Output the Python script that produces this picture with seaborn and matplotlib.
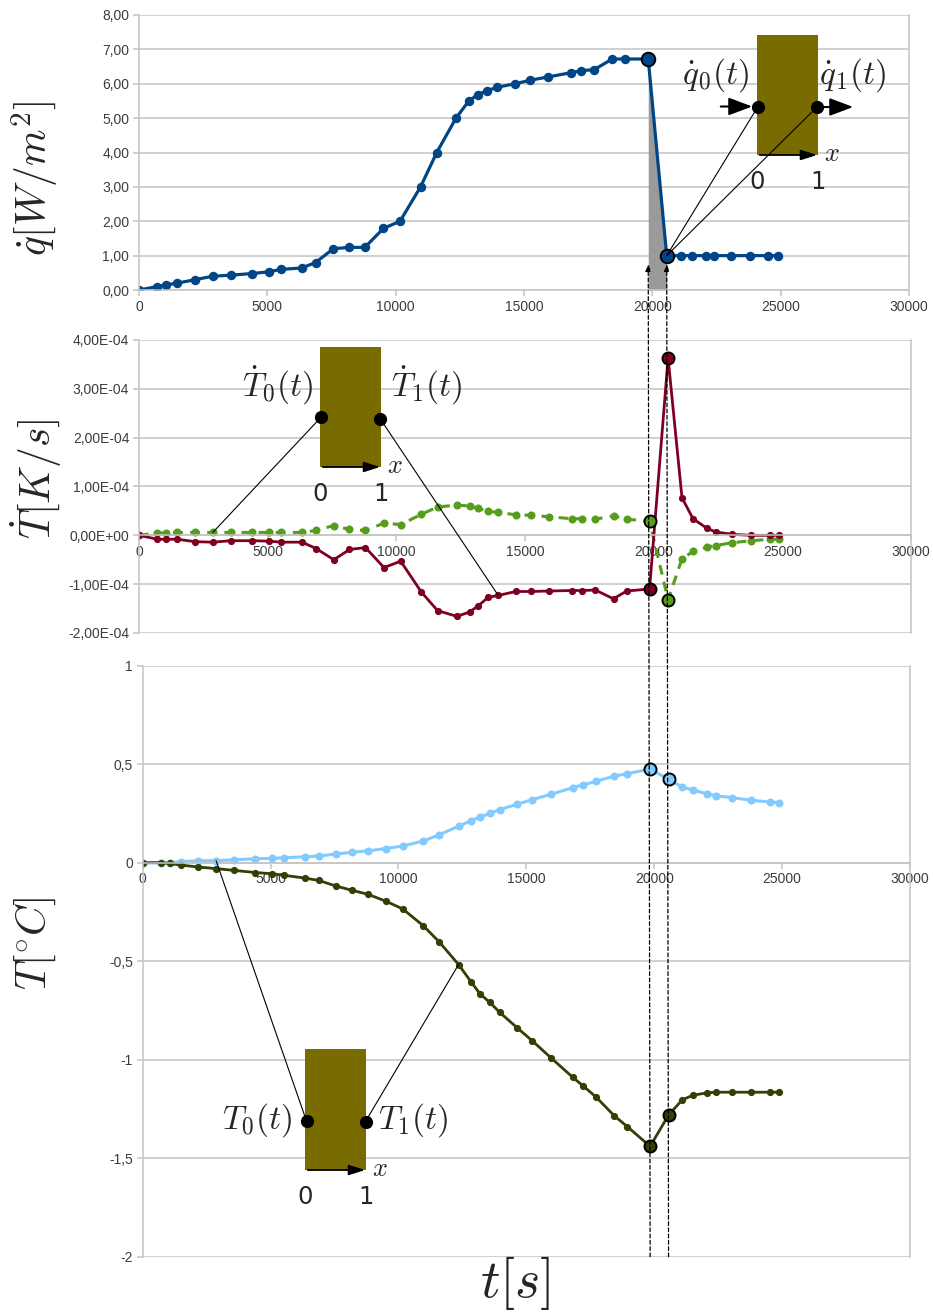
import numpy as np
import pandas as pd
import matplotlib
matplotlib.use("Agg")
import matplotlib.pyplot as plt
import seaborn as sns
from matplotlib.patches import Rectangle, ConnectionPatch, FancyArrowPatch
from matplotlib.lines import Line2D
from matplotlib.ticker import FuncFormatter

# ---------------- data ----------------
t = [0, 710, 1060, 1490, 2180, 2870, 3570, 4410, 5060, 5530,
     6340, 6880, 7570, 8180, 8800, 9520, 10170, 10970, 11600, 12350,
     12850, 13190, 13570, 13960, 14650, 15230, 15950, 16820, 17210, 17730,
     18440, 18950, 19840, 20560, 21100, 21530, 22080, 22410, 23050, 23800,
     24520, 24880]

q = [0, 0.1, 0.15, 0.2, 0.3, 0.4, 0.43, 0.48, 0.53, 0.6,
     0.64, 0.8, 1.2, 1.24, 1.24, 1.79, 2.0, 3.0, 4.0, 5.0,
     5.5, 5.68, 5.8, 5.9, 6.0, 6.1, 6.2, 6.32, 6.38, 6.41,
     6.72, 6.72, 6.72, 1.0, 1.0, 1.0, 1.0, 1.0, 1.0, 1.0,
     1.0, 1.0]

# temperature rates, in units of 1E-04 K/s
tdot0_e4 = [0, 0.05, 0.05, 0.06, 0.06, 0.06, 0.06, 0.06, 0.06, 0.06,
            0.06, 0.1, 0.2, 0.12, 0.1, 0.25, 0.22, 0.43, 0.58, 0.62,
            0.6, 0.55, 0.49, 0.47, 0.42, 0.41, 0.38, 0.34, 0.34, 0.33,
            0.4, 0.33, 0.29, -1.32, -0.48, -0.33, -0.24, -0.21, -0.15, -0.11,
            -0.08, -0.08]
tdot1_e4 = [0, -0.08, -0.08, -0.08, -0.13, -0.14, -0.11, -0.11, -0.12, -0.14,
            -0.14, -0.27, -0.5, -0.29, -0.25, -0.66, -0.53, -1.16, -1.54, -1.66,
            -1.57, -1.44, -1.27, -1.23, -1.15, -1.15, -1.14, -1.13, -1.13, -1.12,
            -1.3, -1.14, -1.1, 3.63, 0.77, 0.34, 0.14, 0.07, 0.02, 0.0,
            0.0, 0.0]

T0 = [0, 0, 0, 0.005, 0.01, 0.01, 0.015, 0.02, 0.022, 0.025,
      0.03, 0.034, 0.044, 0.053, 0.06, 0.072, 0.085, 0.11, 0.142, 0.185,
      0.214, 0.232, 0.25, 0.27, 0.297, 0.32, 0.347, 0.381, 0.395, 0.413,
      0.44, 0.452, 0.476, 0.423, 0.384, 0.368, 0.349, 0.34, 0.33, 0.317,
      0.308, 0.305]
T1 = [0, 0, -0.004, -0.012, -0.022, -0.03, -0.039, -0.05, -0.056, -0.064,
      -0.078, -0.09, -0.119, -0.14, -0.16, -0.196, -0.235, -0.32, -0.403, -0.517,
      -0.607, -0.666, -0.709, -0.76, -0.839, -0.904, -0.989, -1.09, -1.132, -1.19,
      -1.285, -1.34, -1.44, -1.281, -1.203, -1.18, -1.168, -1.165, -1.165, -1.165,
      -1.165, -1.165]

x_ticks = [0, 5000, 10000, 15000, 20000, 25000, 30000]
q_ticks = [0, 1, 2, 3, 4, 5, 6, 7, 8]
tdot_ticks = [-2e-4, -1e-4, 0, 1e-4, 2e-4, 3e-4, 4e-4]
T_ticks = [-2, -1.5, -1, -0.5, 0, 0.5, 1]

hl = [32, 33]  # highlighted instants
link_q = 33
link_tdot0 = 5
link_tdot1 = 23
link_T0 = 5
link_T1 = 19

df = pd.DataFrame({"t": t, "q": q,
                   "tdot0": np.array(tdot0_e4) * 1e-4,
                   "tdot1": np.array(tdot1_e4) * 1e-4,
                   "T0": T0, "T1": T1})

# ---------------- style ----------------
sns.set_theme(style="white")
plt.rcParams["font.family"] = ["Liberation Sans", "DejaVu Sans"]
plt.rcParams["mathtext.fontset"] = "cm"

W, H = 933, 1312
fig = plt.figure(figsize=(W / 100, H / 100), dpi=100)
fig.patch.set_facecolor("white")


def P(x, y):
    return (x / W, 1 - y / H)


def add_ax(l, tp, r, b):
    return fig.add_axes([l / W, 1 - b / H, (r - l) / W, (b - tp) / H])


ax1 = add_ax(139, 15, 909, 290)
ax2 = add_ax(139, 340, 911, 633)
ax3 = add_ax(142.7, 665.7, 910, 1256.7)

GRID = "#c4c4c4"
LAB = "#3c3c3c"

BLUE = "#004586"
RED = "#7e0021"
GREEN = "#579d1c"
LBLUE = "#83caff"
DARK = "#314004"
OLIVE = "#786c00"


def fmt_q(v, pos):
    return f"{v:.2f}".replace(".", ",")


def fmt_tdot(v, pos):
    if abs(v) < 1e-12:
        v = 0.0
    return f"{v:.2E}".replace(".", ",")


def fmt_T(v, pos):
    return f"{v:g}".replace(".", ",")


def style(ax, yticks, fmt):
    ax.set_xlim(0, 30000)
    ax.set_ylim(yticks[0], yticks[-1])
    ax.set_yticks(yticks)
    ax.yaxis.set_major_formatter(FuncFormatter(fmt))
    ax.set_xticks(x_ticks)
    ax.set_xticklabels([str(v) for v in x_ticks])
    ax.set_axisbelow(True)
    ax.grid(axis="y", color=GRID, lw=1.1)
    ax.grid(axis="x", visible=False)
    ax.spines["top"].set_visible(False)
    for s in ["left", "right", "bottom"]:
        ax.spines[s].set_color(GRID)
        ax.spines[s].set_linewidth(1.1)
        ax.spines[s].set_visible(True)
    ax.spines["bottom"].set_position(("data", 0))
    ax.tick_params(axis="y", colors=GRID, labelcolor=LAB, labelsize=10,
                   length=4, width=1.1, pad=3, left=True)
    ax.tick_params(axis="x", colors=GRID, labelcolor=LAB, labelsize=10,
                   length=4, width=1.1, pad=3, bottom=True)
    ax.set_xlabel("")
    ax.set_ylabel("")


# ---------------- top: heat flux ----------------
ax1.fill_between(df["t"].iloc[hl], df["q"].iloc[hl], 0, color="#9a9a9a",
                 lw=0, zorder=1.5)
sns.lineplot(data=df, x="t", y="q", ax=ax1, color=BLUE, lw=2.3, marker="o",
             markersize=6.8, markeredgewidth=0, legend=False)
ax1.scatter(df["t"].iloc[hl], df["q"].iloc[hl], s=95, facecolor=BLUE,
            edgecolor="black", lw=1.4, zorder=5)
style(ax1, q_ticks, fmt_q)

# ---------------- middle: temperature rates ----------------
sns.lineplot(data=df, x="t", y="tdot0", ax=ax2, color=GREEN, lw=2.2,
             marker="o", markersize=5.8, markeredgewidth=0, legend=False,
             linestyle=(0, (3.2, 2.4)))
sns.lineplot(data=df, x="t", y="tdot1", ax=ax2, color=RED, lw=2.0,
             marker="o", markersize=5.2, markeredgewidth=0, legend=False)
ax2.scatter(df["t"].iloc[hl], df["tdot0"].iloc[hl], s=75, facecolor=GREEN,
            edgecolor="black", lw=1.4, zorder=5)
ax2.scatter(df["t"].iloc[hl], df["tdot1"].iloc[hl], s=75, facecolor=RED,
            edgecolor="black", lw=1.4, zorder=5)
style(ax2, tdot_ticks, fmt_tdot)

# ---------------- bottom: temperatures ----------------
sns.lineplot(data=df, x="t", y="T0", ax=ax3, color=LBLUE, lw=2.2,
             marker="o", markersize=5.8, markeredgewidth=0, legend=False)
sns.lineplot(data=df, x="t", y="T1", ax=ax3, color=DARK, lw=2.0,
             marker="o", markersize=5.2, markeredgewidth=0, legend=False)
ax3.scatter(df["t"].iloc[hl], df["T0"].iloc[hl], s=75, facecolor=LBLUE,
            edgecolor="black", lw=1.4, zorder=5)
ax3.scatter(df["t"].iloc[hl], df["T1"].iloc[hl], s=75, facecolor=DARK,
            edgecolor="black", lw=1.4, zorder=5)
style(ax3, T_ticks, fmt_T)

# ---------------- dashed guides through all panels ----------------
for i in hl:
    con = ConnectionPatch(xyA=(t[i], T_ticks[0]), coordsA=ax3.transData,
                          xyB=(t[i], 0.75), coordsB=ax1.transData,
                          arrowstyle="-|>,head_length=0.5,head_width=0.2",
                          linestyle=(0, (3, 2)), lw=0.9, color="black",
                          mutation_scale=8, zorder=6)
    fig.add_artist(con)

# ---------------- axis titles ----------------
fig.text(*P(35, 178), r"$\dot{q}[W/m^2]$", rotation=90, fontsize=30,
         ha="center", va="center")
fig.text(*P(36, 479), r"$\dot{T}[K/s]$", rotation=90, fontsize=30,
         ha="center", va="center")
fig.text(*P(35, 943), r"$T[^{\circ}C]$", rotation=90, fontsize=30,
         ha="center", va="center")
fig.text(*P(515, 1283), r"$t[s]$", fontsize=39, ha="center", va="center")


# ---------------- schematic insets ----------------
def slab(x0, x1, ytop, ybot):
    fig.add_artist(Rectangle(P(x0, ybot), (x1 - x0) / W, (ybot - ytop) / H,
                             transform=fig.transFigure, facecolor=OLIVE,
                             edgecolor="none", zorder=3))
    fig.add_artist(FancyArrowPatch(P(x0, ybot), P(x1 + 2, ybot),
                                   transform=fig.transFigure,
                                   arrowstyle="-|>,head_length=0.7,head_width=0.22",
                                   mutation_scale=14, lw=1.3, color="black",
                                   zorder=4))
    fig.text(*P(x1 + 14, ybot - 1), r"$x$", fontsize=19, ha="center",
             va="center", zorder=7)
    fig.text(*P(x0, ybot + 27), "0", fontsize=17.5, family="DejaVu Sans",
             ha="center", va="center", zorder=7)
    fig.text(*P(x1, ybot + 27), "1", fontsize=17.5, family="DejaVu Sans",
             ha="center", va="center", zorder=7)


def dot(x, y):
    fig.add_artist(Line2D([x / W], [1 - y / H], marker="o", markersize=8.5,
                          color="black", transform=fig.transFigure,
                          zorder=6))


def link(x, y, ax, tx, ty):
    fig.add_artist(ConnectionPatch(xyA=P(x, y), coordsA=fig.transFigure,
                                   xyB=(tx, ty), coordsB=ax.transData,
                                   lw=0.8, color="black", zorder=5))


LBL = 24

# top
slab(757, 818, 35, 155)
dot(758, 106.5)
dot(817, 107)
fig.add_artist(FancyArrowPatch(P(718, 106.5), P(755, 106.5),
                               transform=fig.transFigure,
                               arrowstyle="-|>,head_length=0.8,head_width=0.3",
                               mutation_scale=18, lw=1.5, color="black",
                               zorder=6))
fig.add_artist(FancyArrowPatch(P(819, 107), P(856, 107),
                               transform=fig.transFigure,
                               arrowstyle="-|>,head_length=0.8,head_width=0.3",
                               mutation_scale=18, lw=1.5, color="black",
                               zorder=6))
fig.text(*P(715, 75), r"$\dot{q}_0(t)$", fontsize=LBL, ha="center",
         va="center", zorder=7)
fig.text(*P(852, 75), r"$\dot{q}_1(t)$", fontsize=LBL, ha="center",
         va="center", zorder=7)
link(758, 106.5, ax1, t[link_q], q[link_q])
link(817, 107, ax1, t[link_q], q[link_q])

# middle
slab(320, 381, 347, 467)
dot(321, 417.3)
dot(380, 418.5)
fig.text(*P(278, 385), r"$\dot{T}_0(t)$", fontsize=LBL, ha="center",
         va="center", zorder=7)
fig.text(*P(427, 385), r"$\dot{T}_1(t)$", fontsize=LBL, ha="center",
         va="center", zorder=7)
link(321, 417.3, ax2, t[link_tdot0], df["tdot0"][link_tdot0])
link(380, 418.5, ax2, t[link_tdot1], df["tdot1"][link_tdot1])

# bottom
slab(305, 366, 1049, 1170)
dot(306.5, 1121)
dot(365.5, 1121.5)
fig.text(*P(257, 1120), r"$T_0(t)$", fontsize=LBL, ha="center",
         va="center", zorder=7)
fig.text(*P(413, 1120), r"$T_1(t)$", fontsize=LBL, ha="center",
         va="center", zorder=7)
link(306.5, 1121, ax3, t[link_T0], T0[link_T0])
link(365.5, 1121.5, ax3, t[link_T1], T1[link_T1])

fig.savefig("out.png", dpi=100, facecolor="white")
